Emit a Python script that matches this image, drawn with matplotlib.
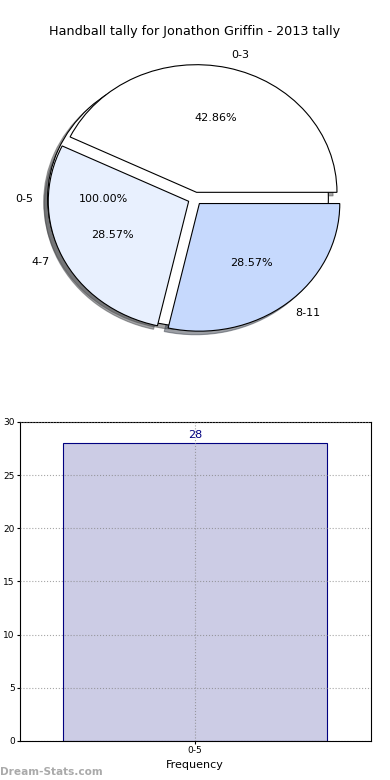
import matplotlib
matplotlib.use("Agg")
import matplotlib.pyplot as plt

# all-ages slice (drawn underneath)
total_label = ["0-5"]
total_values = [28]

# score bands
bands = ["0-3", "4-7", "8-11"]
band_counts = [12, 8, 8]
band_colors = ["#ffffff", "#e8f0fe", "#c6d9fd"]

# bar chart
bar_labels = ["0-5"]
bar_values = [28]

fig, (ax1, ax2) = plt.subplots(2, 1, figsize=(3.9, 7.8), dpi=100)
fig.subplots_adjust(left=0.05, right=0.95, top=0.95, bottom=0.05, hspace=0.2)

ax1.pie(total_values, labels=total_label, autopct="%.2f%%", colors=["white"],
        explode=[0.05], shadow=True, wedgeprops=dict(edgecolor="black", linewidth=0.8),
        textprops=dict(fontsize=8))
ax1.pie(band_counts, labels=bands, autopct="%.2f%%", colors=band_colors,
        explode=[0.05] * len(bands), shadow=True,
        wedgeprops=dict(edgecolor="black", linewidth=0.8),
        textprops=dict(fontsize=8))
ax1.set_aspect("auto")
ax1.set_xlim(-1.25, 1.25)
ax1.set_ylim(-1.25, 1.25)
ax1.set_title("Handball tally for Jonathon Griffin - 2013 tally", fontsize=9.2, pad=3)

x = list(range(len(bar_labels)))
bars = ax2.bar(x, bar_values, width=0.75, color="#ccccE5", edgecolor="navy", linewidth=0.8)
for b, v in zip(bars, bar_values):
    ax2.text(b.get_x() + b.get_width() / 2, v + 0.3, str(v), ha="center", va="bottom",
             color="navy", fontsize=8)
ax2.set_xlim(-0.5, 0.5)
ax2.set_ylim(0, 30)
ax2.set_xticks(x)
ax2.set_xticklabels(bar_labels)
ax2.tick_params(labelsize=6.5, length=2, pad=1.5)
ax2.grid(True, linestyle=":", color="gray", alpha=0.7)
ax2.set_axisbelow(False)
ax2.set_xlabel("Frequency", fontsize=8)
ax2.set_ylabel("Score Total", fontsize=8)
ax2.yaxis.set_label_coords(-0.05, 0.5)

fig.text(0.0, 0.006, "Dream-Stats.com", color="#aaaaaa", fontsize=7.6, fontweight="bold")

fig.savefig("out.png", dpi=100)
